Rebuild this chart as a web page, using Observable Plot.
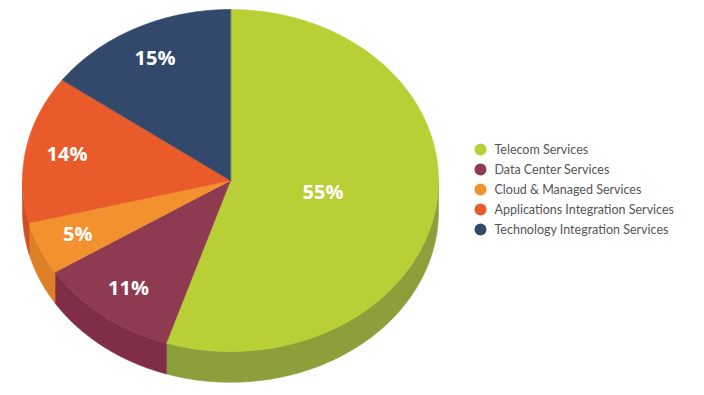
<!DOCTYPE html>
<html><head><meta charset="utf-8">
<script src="https://cdn.jsdelivr.net/npm/d3@7"></script>
<script src="https://cdn.jsdelivr.net/npm/@observablehq/plot@0.6"></script>
<style>
html,body{margin:0;padding:0;background:#fff;}
#wrap{width:704px;height:395px;display:flex;flex-direction:row;overflow:hidden;}
#wrap svg{display:block;}
</style></head><body><div id="wrap"></div>
<script>
// ---- data ----
const categories = ["Telecom Services", "Data Center Services", "Cloud & Managed Services", "Applications Integration Services", "Technology Integration Services"];
const shares = [55, 11, 5, 14, 15];
const labels = ["55%", "11%", "5%", "14%", "15%"];
const topColors = ["#b9cf36", "#8e3a51", "#f3912f", "#e95b2a", "#32496c"];
const sideColors = ["#8c9f3a", "#7f2e45", "#de8026", "#cf4f24", "#263a58"];

// ---- geometry (unit circle, angles clockwise from 12 o'clock) ----
const DEPTH = 0.18;
const arcs = d3.pie().sort(null).value(d => d)(shares);
const STEP = Math.PI / 360;
function arcAngles(a0, a1) {
  const n = Math.max(2, Math.ceil((a1 - a0) / STEP));
  return d3.range(n + 1).map(i => a0 + (a1 - a0) * i / n);
}
const topFaces = arcs.map(a => [{x: 0, y: 0}, ...arcAngles(a.startAngle, a.endAngle).map(t => ({x: Math.sin(t), y: Math.cos(t)}))]);
const sides = arcs.map(a => {
  const s = Math.max(a.startAngle, Math.PI / 2), e = Math.min(a.endAngle, 3 * Math.PI / 2);
  if (s >= e) return null;
  const ts = arcAngles(s, e);
  return [...ts.map(t => ({x: Math.sin(t), y: Math.cos(t)})), ...ts.slice().reverse().map(t => ({x: Math.sin(t), y: Math.cos(t) - DEPTH}))];
});
const labelRows = arcs.map((a, i) => {
  const r = shares[i] > 50 ? 0.45 : 0.8;
  const m = (a.startAngle + a.endAngle) / 2;
  return {x: r * Math.sin(m), y: r * Math.cos(m), text: labels[i]};
});

const sideMarks = sides.map((p, i) => p ? Plot.line(p, {x: "x", y: "y", fill: sideColors[i], stroke: sideColors[i], strokeWidth: 0.6, curve: "linear-closed"}) : null).filter(Boolean);
const topMarks = topFaces.map((p, i) => Plot.line(p, {x: "x", y: "y", fill: topColors[i], stroke: topColors[i], strokeWidth: 0.6, curve: "linear-closed"}));

const pie = Plot.plot({
  width: 460, height: 395, margin: 0,
  style: {background: "#fff", overflow: "visible"},
  x: {domain: [-1, 1], range: [22, 438], axis: null},
  y: {domain: [-1, 1], range: [351, 9], axis: null},
  marks: [
    ...sideMarks,
    ...topMarks,
    Plot.text(labelRows, {x: "x", y: "y", text: "text", fill: "white", fontSize: 20, fontWeight: 700, fontFamily: "Open Sans"})
  ]
});

const legend = Plot.plot({
  width: 244, height: 395,
  marginLeft: 20, marginRight: 0, marginTop: 138, marginBottom: 155,
  style: {background: "#fff", fontFamily: "Lato", fontSize: "12px"},
  y: {type: "band", domain: categories, padding: 0, axis: null},
  color: {domain: categories, range: topColors},
  marks: [
    Plot.dot(categories, {y: d => d, frameAnchor: "left", fill: d => d, r: 6}),
    Plot.text(categories, {y: d => d, frameAnchor: "left", dx: 14, text: d => d, textAnchor: "start", fill: "#555", fontSize: 12.5, fontFamily: "Lato"})
  ]
});

const wrap = document.getElementById("wrap");
wrap.appendChild(pie);
wrap.appendChild(legend);
</script>
</body></html>
